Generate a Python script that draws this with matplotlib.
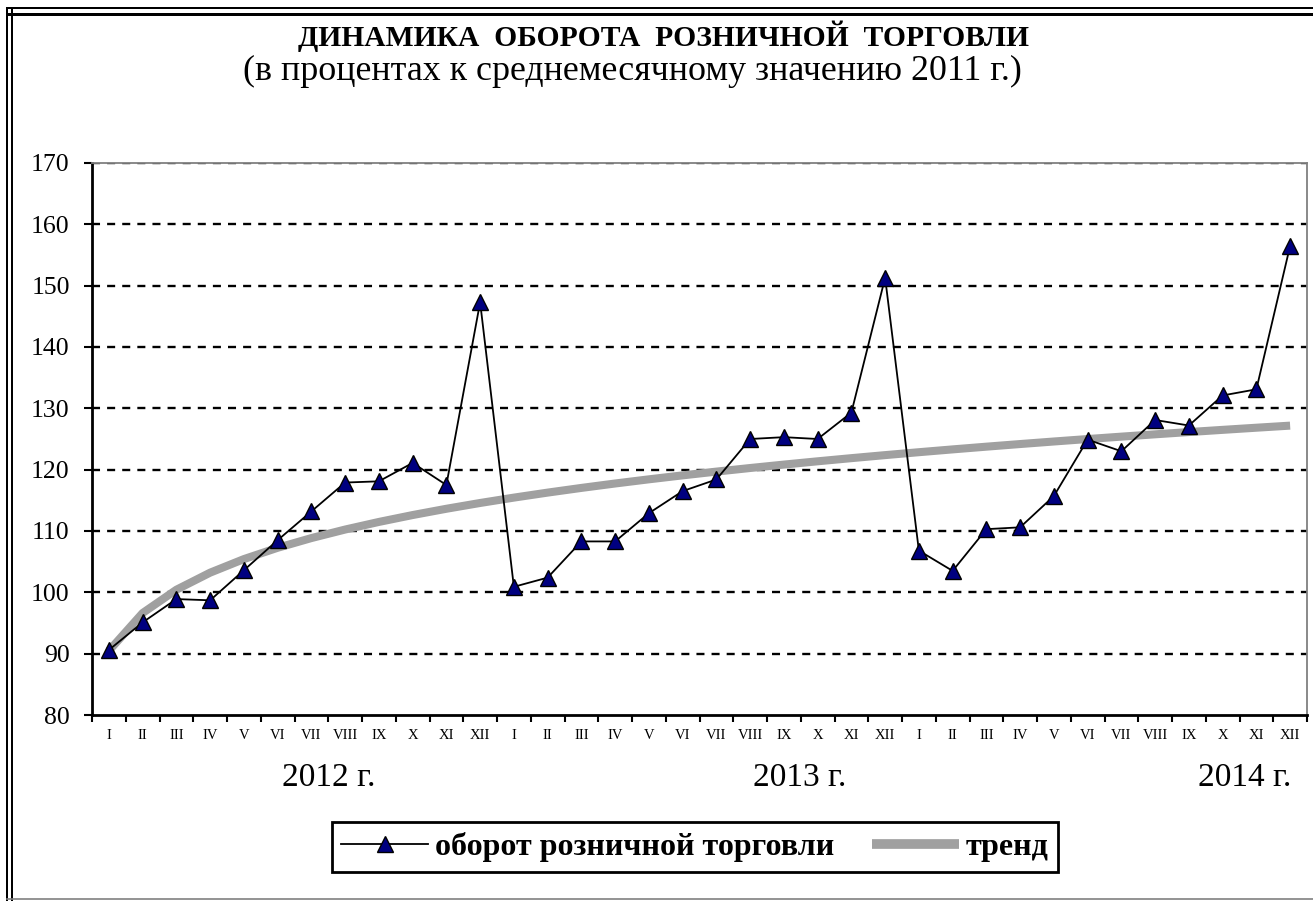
import numpy as np
import matplotlib
matplotlib.use("Agg")
import matplotlib.pyplot as plt
from matplotlib.lines import Line2D

plt.rcParams['font.family'] = ['Liberation Serif', 'DejaVu Serif']

months = ["I", "II", "III", "IV", "V", "VI", "VII", "VIII", "IX", "X", "XI", "XII"]
years = ["2012 г.", "2013 г.", "2014 г."]
turnover_2012 = [90.6, 95.1, 98.9, 98.7, 103.6, 108.5, 113.2, 117.9, 118.1, 121.1, 117.5, 147.3]
turnover_2013 = [100.9, 102.4, 108.3, 108.3, 112.9, 116.5, 118.4, 125.0, 125.3, 125.0, 129.3, 151.3]
turnover_2014 = [106.8, 103.5, 110.3, 110.6, 115.7, 124.9, 123.0, 128.1, 127.2, 132.1, 133.1, 156.5]

title = "ДИНАМИКА  ОБОРОТА  РОЗНИЧНОЙ  ТОРГОВЛИ"
subtitle = "(в процентах к среднемесячному значению 2011 г.)"
series_label = "оборот розничной торговли"
trend_label = "тренд"

values = np.array(turnover_2012 + turnover_2013 + turnover_2014)
labels = months * 3
x = np.arange(len(values))

# power trend fitted to the data (as in the spreadsheet trendline)
t = x + 1
c, lnb = np.polyfit(np.log(t), np.log(values), 1)
trend = np.exp(lnb) * t ** c

W, H = 1313, 901
fig = plt.figure(figsize=(W / 100, H / 100), dpi=100)
ax = fig.add_axes([92 / W, 1 - 715 / H, (1307 - 92) / W, (715 - 163) / H])
ax.set_facecolor('white')

ax.set_xlim(-0.5, len(values) - 0.5)
ax.set_ylim(80, 170)
ax.set_yticks(np.arange(80, 171, 10))
for yv in range(90, 171, 10):
    ax.axhline(yv, color='black', lw=1.7, linestyle=(0, (3.4, 3.0)), zorder=1)

ax.plot(x, trend, color='#a0a0a0', lw=5.8, solid_capstyle='butt', zorder=2, label=trend_label)
ax.plot(x, values, color='black', lw=1.3, marker='^', markersize=11,
        markerfacecolor='#000080', markeredgecolor='black', markeredgewidth=1.0,
        zorder=3, label=series_label)

ax.set_xticks(x)
ax.set_xticklabels(labels, fontsize=10.5)
ax.set_xticks(np.arange(-0.5, len(values), 1), minor=True)
ax.tick_params(axis='x', which='major', length=0, pad=10)
ax.tick_params(axis='x', which='minor', length=5, width=1.5, direction='out', color='black')
ax.tick_params(axis='y', which='major', length=6, width=1.5, direction='out', labelsize=18.5, pad=10)

for s in ['left', 'bottom']:
    ax.spines[s].set_color('black')
    ax.spines[s].set_linewidth(2)
for s in ['top', 'right']:
    ax.spines[s].set_color('#808080')
    ax.spines[s].set_linewidth(1.3)

# year labels
year_x = [329, 800, 1245]
for yx, yl in zip(year_x, years):
    fig.text(yx / W, 1 - 778 / H, yl, fontsize=24, ha='center', va='center')

fig.text(664 / W, 1 - 36 / H, title, fontsize=21.3, fontweight='bold', ha='center', va='center')
fig.text(632 / W, 1 - 71 / H, subtitle, fontsize=25.8, ha='center', va='center')

handles = [
    Line2D([], [], color='black', lw=1.3, marker='^', markersize=11,
           markerfacecolor='#000080', markeredgecolor='black'),
    Line2D([], [], color='#a0a0a0', lw=7, solid_capstyle='butt'),
]
leg = fig.legend(handles, [series_label, trend_label], loc='center',
                 bbox_to_anchor=(695 / W, 1 - 847 / H), ncol=2,
                 prop={'weight': 'bold', 'size': 23}, frameon=True, fancybox=False,
                 edgecolor='black', framealpha=1, handlelength=2.7, handletextpad=0.22,
                 columnspacing=1.2, borderpad=0.3)
leg.get_frame().set_linewidth(2)

# outer frame
for xx, lw in [(7, 2), (12, 2)]:
    fig.add_artist(Line2D([xx / W, xx / W], [0, 1 - 8 / H], color='black', lw=lw * 0.72))
for yy, lw in [(8, 2), (14, 3)]:
    fig.add_artist(Line2D([xx / W for xx in (7, W)], [1 - yy / H, 1 - yy / H], color='black', lw=lw * 0.72))
fig.add_artist(Line2D([7 / W, 1], [1 - 899 / H, 1 - 899 / H], color='#808080', lw=1.2))

fig.savefig('out.png', dpi=100)
